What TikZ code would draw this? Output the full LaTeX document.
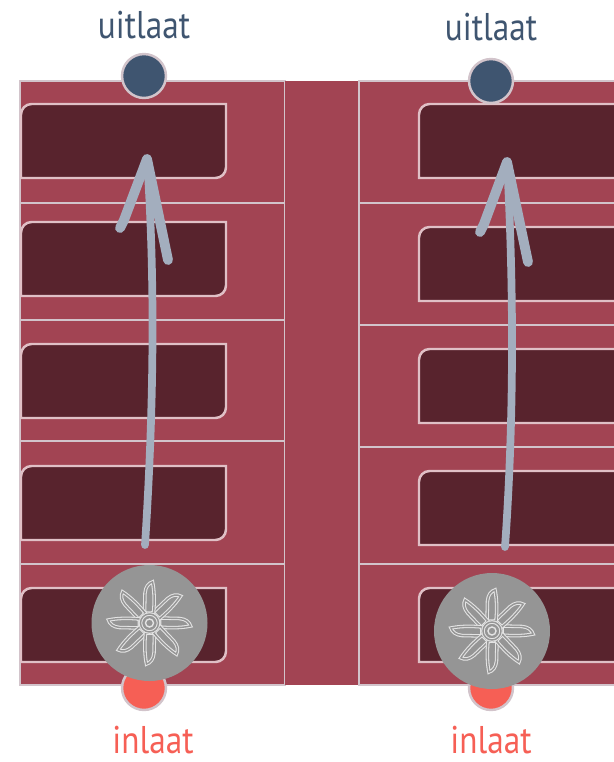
\documentclass[tikz,border=0pt]{standalone}
\usepackage{fontspec}
\newfontfamily\labelfont[FakeStretch=0.86]{PT Sans}
\definecolor{panelred}{HTML}{A24453}
\definecolor{slotdark}{HTML}{58232D}
\definecolor{slotedge}{HTML}{E0C0C6}
\definecolor{panelline}{HTML}{D2C4CB}
\definecolor{fangray}{HTML}{959595}
\definecolor{fanline}{HTML}{E4E4E4}
\definecolor{arrowgray}{HTML}{A3AEBE}
\definecolor{outblue}{HTML}{3F5570}
\definecolor{inred}{HTML}{F65F55}
\tikzset{
  panel/.style={fill=panelred,draw=panelline,line width=1.3pt},
  rib/.style={panelline,line width=1.3pt},
  slot/.style={fill=slotdark,draw=slotedge,line width=1.4pt},
  flow/.style={arrowgray,line width=4.4pt,line cap=round,line join=round},
  barb/.style={arrowgray,line width=5.6pt,line cap=round,line join=round},
  port/.style={circle,minimum size=25pt,inner sep=0pt,draw=panelline,line width=1.4pt},
  portlabel/.style={font=\labelfont\fontsize{22}{24}\selectfont,inner sep=0pt},
  blade/.style={draw=fanline,double=fangray,double distance=0.8pt,line width=0.6pt},
  fan/.pic={
    \fill[fangray] (0,0) circle (58);
    \foreach \a in {0,45,...,315}
      \draw[blade,rotate=\a] (10,-5) -- (30,-4.5) .. controls (36,-4) and (40,-1) .. (41,3) .. controls (32,5) and (20,5) .. (10,4) -- cycle;
    \draw[blade,fill=fangray] (0,0) circle (9);
    \draw[fanline,line width=0.8pt] (0,0) circle (4);
  }
}
\begin{document}
\begin{tikzpicture}[x=0.02cm,y=-0.02cm]
  \useasboundingbox[fill=white] (0,0) rectangle (614,762);
  \draw[panel] (20,81) rectangle (285,685);
  \fill[panelred] (285,81) rectangle (359,685);
  \draw[panel] (359,81) -- (616,81) -- (616,685) -- (359,685) -- cycle;
  \foreach \y in {203,320,441,564}
    \draw[rib] (20,\y) -- (285,\y);
  \foreach \y in {203,325,447,564}
    \draw[rib] (359,\y) -- (616,\y);
  \foreach \y in {104,222,344,466,588}
    \draw[slot] (21,\y+74) [rounded corners=6pt] -- (21,\y) [sharp corners] -- (226,\y) [rounded corners=6pt] -- (226,\y+74) [sharp corners] -- cycle;
  \foreach \y in {104,227,349,471,588}
    \draw[slot] (616,\y+74) -- (419,\y+74) [rounded corners=6pt] -- (419,\y) [sharp corners] -- (616,\y) -- cycle;
  \coordinate (tailA) at (145,545);
  \coordinate (tipA) at (147,159);
  \coordinate (barbA) at (120,228);
  \coordinate (hookA) at (168,260);
  \coordinate (tailB) at (505,547);
  \coordinate (tipB) at (507,162);
  \coordinate (barbB) at (480,232);
  \coordinate (hookB) at (528,262);
  \draw[flow] (tailA) .. controls (153,420) and (156,290) .. (tipA);
  \draw[barb] (barbA) -- (124,220) -- (tipA) -- (hookA);
  \draw[flow] (tailB) .. controls (514,420) and (514,290) .. (tipB);
  \draw[barb] (barbB) -- (484,224) -- (tipB) -- (hookB);
  \node[port,fill=outblue] (outA) at (144,76) {};
  \node[port,fill=outblue] (outB) at (491,81) {};
  \node[port,fill=inred] (inA) at (144,688) {};
  \node[port,fill=inred] (inB) at (491,688) {};
  \pic at (149.5,623) {fan};
  \pic at (492,631) {fan};
  \node[portlabel,text=outblue] (labelOutA) at (144,25) {uitlaat};
  \node[portlabel,text=outblue] (labelOutB) at (491,27) {uitlaat};
  \node[portlabel,text=inred] (labelInA) at (153,740) {inlaat};
  \node[portlabel,text=inred] (labelInB) at (491,740) {inlaat};
\end{tikzpicture}
\end{document}
